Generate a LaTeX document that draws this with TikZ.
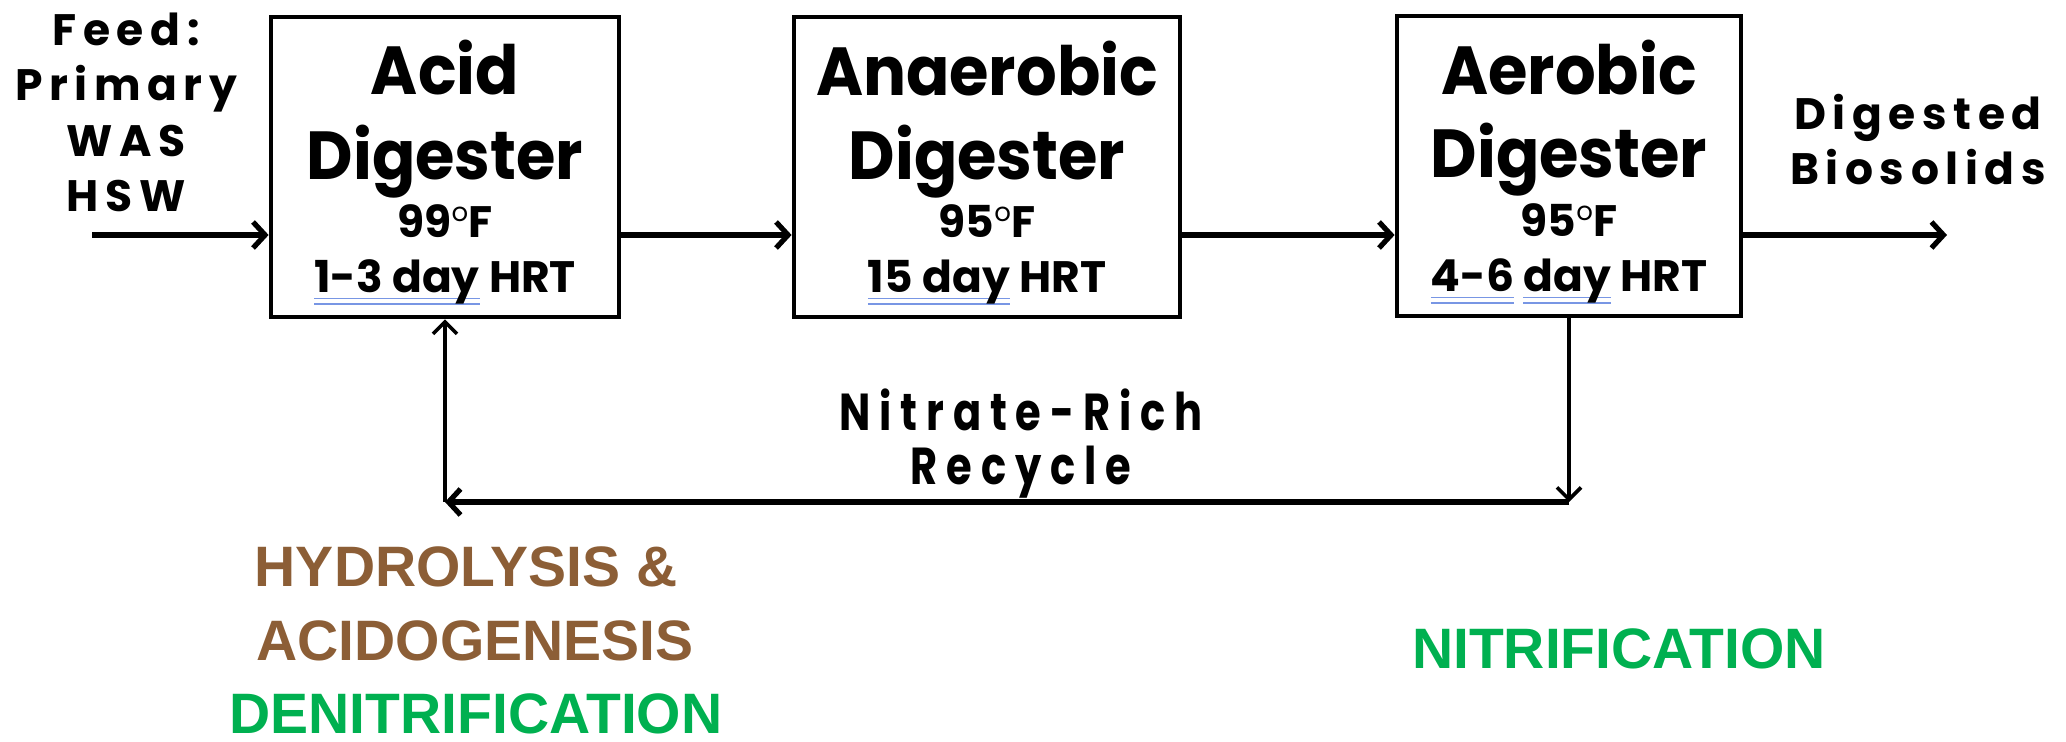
\documentclass[tikz,border=0pt]{standalone}
\usepackage{fontspec}
\usepackage{xcolor}
\usepackage{tikz}
\usetikzlibrary{arrows.meta}

\setmainfont{Poppins}
\newfontfamily\boxfont[FakeStretch=0.94]{Poppins}
\newfontfamily\detailfont{Poppins}
\newfontfamily\spacedfont[LetterSpace=15]{Poppins}
\newfontfamily\tallfont[LetterSpace=17,FakeStretch=0.8]{Poppins}
\newfontfamily\stagefont{Liberation Sans}

\definecolor{stagebrown}{RGB}{140,94,54}
\definecolor{stagegreen}{RGB}{0,176,80}
\definecolor{checkblue}{RGB}{120,150,228}

% double blue underline, as left by the spell checker
\newcommand{\spellmark}[1]{\setbox0\hbox{#1}%
  \rlap{\color{checkblue}\rule[-3.2pt]{\wd0}{0.7pt}}%
  \rlap{\color{checkblue}\rule[-5.8pt]{\wd0}{0.7pt}}\box0\relax}
% degree ring sitting at cap height
\newcommand{\degr}{\raisebox{0.38em}{\fontsize{13}{13}\selectfont\mdseries o}}

\begin{document}
\begin{tikzpicture}[x=0.5pt,y=-0.5pt]
		\tikzstyle{digester}=[draw, line width=2.4pt, inner sep=0pt, minimum height=150pt]
		\tikzstyle{title}=[anchor=base, font=\boxfont\bfseries\fontsize{34}{36}\selectfont]
		\tikzstyle{detail}=[anchor=base, font=\detailfont\bfseries\fontsize{22}{24}\selectfont]
		\tikzstyle{stream}=[anchor=base, font=\spacedfont\bfseries\fontsize{22}{24}\selectfont]
		\tikzstyle{note}=[anchor=base, inner sep=1pt, font=\tallfont\bfseries\fontsize{26}{28}\selectfont]
		\tikzstyle{stage}=[anchor=base, font=\stagefont\bfseries\fontsize{28.5}{30}\selectfont]
		\tikzstyle{flow}=[line width=2.6pt, -{Straight Barb[length=6pt,width=13pt,line width=2.6pt]}]
		\tikzstyle{recycle}=[line width=1.8pt, -{Straight Barb[length=6pt,width=12pt,line width=1.8pt]}]

	\useasboundingbox (0,0) rectangle (2066,742);

	% digesters
	\node [digester, minimum width=174pt] (acid) at (445,167) {};
	\node [title] (acid-1) at (445,95) {Acid};
	\node [title] (acid-2) at (445,180) {Digester};
	\node [detail] (acid-3) at (445,238) {99\degr F};
	\node [detail] (acid-4) at (445,293) {\spellmark{1-3 day} HRT};

	\node [digester, minimum width=193pt] (anaerobic) at (987,167) {};
	\node [title] (anaerobic-1) at (987,96) {Anaerobic};
	\node [title] (anaerobic-2) at (987,180) {Digester};
	\node [detail] (anaerobic-3) at (987,238) {95\degr F};
	\node [detail] (anaerobic-4) at (987,293) {\spellmark{15 day} HRT};

	\node [digester, minimum width=172pt] (aerobic) at (1569,166) {};
	\node [title] (aerobic-1) at (1569,95) {Aerobic};
	\node [title] (aerobic-2) at (1569,178) {Digester};
	\node [detail] (aerobic-3) at (1569,237) {95\degr F};
	\node [detail] (aerobic-4) at (1569,292) {\spellmark{4-6} \spellmark{day} HRT};

	% feed and product
	\foreach \txt/\yy in {Feed:/46, Primary/101, WAS/157, HSW/212}
		\node [stream] (feed-\yy) at (126,\yy) {\txt};
	\node [stream] (out-1) at (1918,130) {Digested};
	\node [stream] (out-2) at (1918,185) {Biosolids};

	\coordinate (feed-in) at (92,235);
	\coordinate (out-end) at (1947,235);
	\draw [flow] (feed-in) -- (acid.west |- feed-in);
	\draw [flow] (acid.east |- feed-in) -- (anaerobic.west |- feed-in);
	\draw [flow] (anaerobic.east |- feed-in) -- (aerobic.west |- feed-in);
	\draw [flow] (aerobic.east |- out-end) -- (out-end);

	% nitrate recycle
	\coordinate (rc-r) at (aerobic.south |- 0,502);
	\coordinate (rc-l) at (acid.south |- 0,502);
	\draw [recycle] (aerobic.south) -- (rc-r);
	\draw [flow] (rc-r) -- (rc-l);
	\draw [recycle] (rc-l) -- (acid.south);
	\node [note] (rc-1) at (1021,431) {Nitrate-Rich};
	\node [note] (rc-2) at (1021,485) {Recycle};

	% process stages
	\node [stage, text=stagebrown] (hydro) at (466,587) {HYDROLYSIS \&};
	\node [stage, text=stagebrown] (acido) at (475,661) {ACIDOGENESIS};
	\node [stage, text=stagegreen] (denit) at (476,733) {DENITRIFICATION};
	\node [stage, text=stagegreen] (nitri) at (1619,668) {NITRIFICATION};

	\end{tikzpicture}
\end{document}
